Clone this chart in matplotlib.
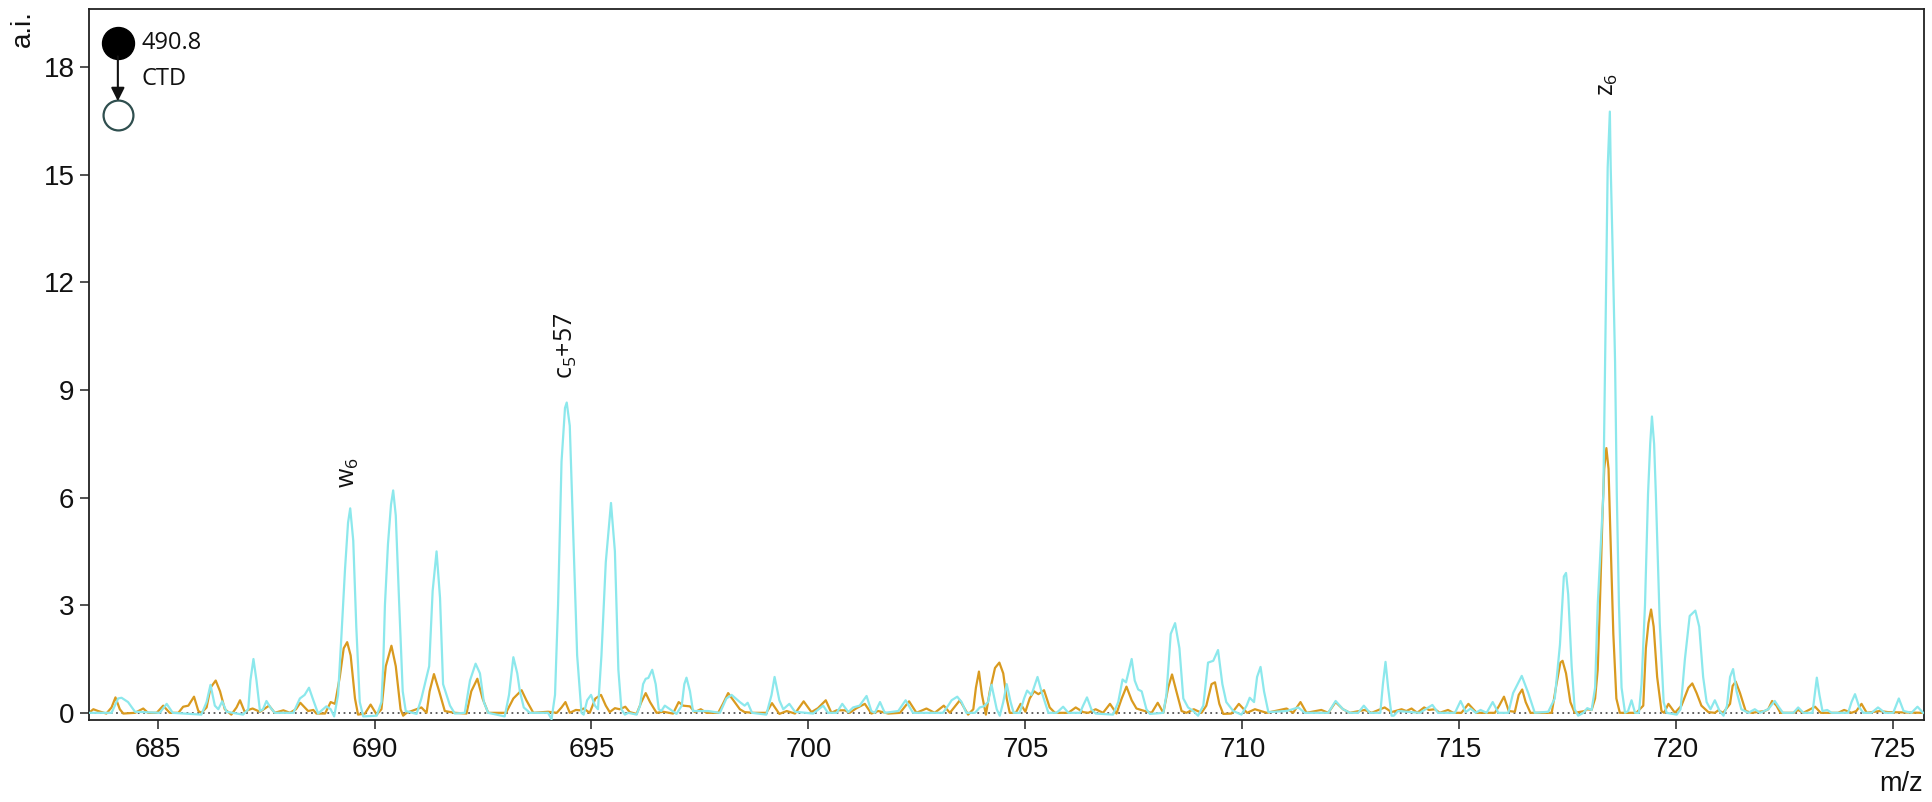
# -*- coding: utf-8 -*-
# CTD spectrum, m/z 683-726, two overlaid traces
import matplotlib
matplotlib.use("Agg")
import matplotlib.pyplot as plt

plt.rcParams["font.family"] = ["Liberation Sans", "DejaVu Sans"]
plt.rcParams["mathtext.default"] = "regular"

# traces
cyan_mz = [
    683.44, 683.94, 684.09, 684.17, 684.32, 684.48, 685.05, 685.21, 685.35, 686.01, 686.13, 686.22,
    686.32, 686.40, 686.49, 686.59, 686.97, 687.09, 687.14, 687.21, 687.28, 687.36, 687.43, 687.51,
    687.60, 687.70, 688.13, 688.28, 688.39, 688.49, 688.59, 688.70, 688.89, 688.99, 689.07, 689.16,
    689.24, 689.32, 689.39, 689.44, 689.51, 689.58, 689.66, 689.74, 690.05, 690.16, 690.20, 690.24, 690.31,
    690.38, 690.43, 690.49, 690.57, 690.65, 690.72, 690.97, 691.08, 691.20, 691.26, 691.34, 691.43,
    691.51, 691.58, 691.74, 691.85, 692.08, 692.20, 692.33, 692.43, 692.52, 692.62, 693.00, 693.10,
    693.20, 693.29, 693.35, 693.44, 693.58, 694.00, 694.08, 694.16, 694.23, 694.31, 694.39, 694.43,
    694.50, 694.58, 694.67, 694.77, 694.82, 694.90, 694.99, 695.08, 695.15, 695.23, 695.33, 695.45,
    695.54, 695.62, 695.69, 695.77, 695.85, 696.04, 696.12, 696.19, 696.25, 696.31, 696.40, 696.48,
    696.55, 696.61, 696.69, 696.81, 696.96, 697.08, 697.14, 697.19, 697.27, 697.34, 697.69, 697.96,
    698.11, 698.23, 698.42, 698.53, 698.60, 698.70, 699.03, 699.15, 699.22, 699.33, 699.42, 699.56,
    699.69, 700.11, 700.34, 700.45, 700.65, 700.78, 700.92, 701.03, 701.18, 701.34, 701.45, 701.53,
    701.65, 701.76, 702.07, 702.24, 702.41, 703.10, 703.22, 703.30, 703.43, 703.53, 703.64, 703.84,
    703.95, 704.04, 704.14, 704.22, 704.34, 704.41, 704.49, 704.57, 704.66, 704.73, 704.87, 704.97,
    705.04, 705.14, 705.28, 705.37, 705.53, 705.72, 705.87, 705.99, 706.26, 706.33, 706.42, 706.52,
    706.62, 707.02, 707.14, 707.24, 707.32, 707.45, 707.52, 707.60, 707.68, 707.79, 707.87, 708.18,
    708.25, 708.35, 708.45, 708.55, 708.64, 708.75, 708.87, 708.98, 709.10, 709.21, 709.33, 709.44,
    709.54, 709.63, 709.79, 709.98, 710.10, 710.17, 710.27, 710.34, 710.42, 710.50, 710.60, 711.02,
    711.29, 711.44, 711.98, 712.15, 712.32, 712.48, 712.67, 712.80, 712.94, 713.18, 713.24, 713.30,
    713.36, 713.44, 713.49, 713.59, 714.09, 714.38, 714.51, 714.90, 715.03, 715.15, 715.26, 715.38,
    715.49, 715.63, 715.77, 715.90, 716.13, 716.24, 716.44, 716.59, 716.74, 717.05, 717.20, 717.32,
    717.41, 717.46, 717.51, 717.59, 717.66, 717.74, 717.86, 717.95, 718.05, 718.13, 718.19, 718.32,
    718.36, 718.39, 718.42, 718.47, 718.49, 718.54, 718.59, 718.63, 718.68, 718.74, 718.82, 718.89,
    718.97, 719.05, 719.14, 719.20, 719.28, 719.35, 719.40, 719.44, 719.49, 719.53, 719.62, 719.71,
    719.78, 720.01, 720.10, 720.20, 720.31, 720.44, 720.53, 720.62, 720.70, 720.79, 720.89, 721.00,
    721.09, 721.17, 721.24, 721.31, 721.39, 721.50, 721.66, 721.81, 721.93, 722.12, 722.27, 722.37,
    722.46, 722.70, 722.81, 722.93, 723.14, 723.20, 723.24, 723.30, 723.37, 723.48, 723.58, 723.96,
    724.04, 724.12, 724.22, 724.31, 724.50, 724.65, 724.81, 725.00, 725.13, 725.24, 725.42, 725.56,
    725.69,
]
cyan_ai = [
    0.00, 0.00, 0.40, 0.42, 0.30, 0.03, 0.00, 0.25, 0.00, -0.05, 0.30, 0.78,
    0.20, 0.10, 0.32, 0.03, -0.05, 0.10, 0.90, 1.50, 0.90, 0.05, 0.10, 0.33,
    0.15, 0.00, 0.00, 0.40, 0.50, 0.70, 0.35, -0.02, 0.18, 0.10, -0.10, 0.50,
    2.20, 4.00, 5.30, 5.70, 4.80, 2.40, 0.30, -0.10, -0.08, 0.30, 1.30, 3.00, 4.70,
    5.80, 6.20, 5.50, 3.00, 0.60, 0.05, -0.03, 0.40, 1.00, 1.30, 3.40, 4.50,
    3.20, 0.80, 0.20, -0.02, 0.00, 0.90, 1.37, 1.10, 0.30, 0.00, -0.10, 0.50,
    1.55, 1.10, 0.60, 0.15, 0.00, 0.00, -0.18, 0.50, 3.00, 7.00, 8.50, 8.65,
    8.00, 5.00, 1.60, 0.00, -0.05, 0.35, 0.50, 0.20, 0.10, 1.60, 4.20, 5.85,
    4.50, 1.20, 0.10, -0.05, 0.00, -0.05, 0.20, 0.80, 0.95, 0.97, 1.20, 0.80,
    0.10, 0.05, 0.20, 0.10, -0.03, 0.20, 0.80, 0.98, 0.60, 0.05, 0.05, 0.00,
    0.40, 0.50, 0.30, 0.20, 0.28, 0.00, -0.05, 0.50, 1.00, 0.35, 0.10, 0.25,
    0.03, -0.02, 0.20, 0.00, 0.00, 0.25, 0.02, 0.15, 0.20, 0.47, 0.05, 0.00,
    0.30, 0.00, 0.05, 0.35, 0.00, 0.00, 0.20, 0.35, 0.45, 0.30, 0.00, 0.00,
    0.15, 0.18, 0.30, 0.78, 0.10, -0.08, 0.30, 0.80, 0.30, 0.00, 0.00, 0.40,
    0.62, 0.50, 1.00, 0.60, 0.00, 0.00, 0.17, 0.00, 0.00, 0.20, 0.43, 0.10,
    -0.02, -0.05, 0.30, 0.93, 0.85, 1.50, 0.90, 0.65, 0.60, 0.10, -0.03, 0.00,
    0.50, 2.20, 2.50, 1.80, 0.40, 0.15, 0.05, -0.08, 0.20, 1.40, 1.45, 1.75,
    0.80, 0.30, 0.05, -0.05, 0.20, 0.42, 0.30, 1.00, 1.28, 0.60, 0.02, 0.05,
    0.15, 0.00, 0.00, 0.33, 0.10, 0.00, 0.00, 0.20, 0.00, 0.00, 0.80, 1.42,
    0.70, -0.08, -0.08, 0.05, 0.00, 0.22, 0.00, 0.00, 0.33, 0.02, 0.12, 0.00,
    0.08, 0.00, 0.30, 0.00, 0.00, 0.55, 1.03, 0.55, 0.00, 0.03, 0.40, 1.90,
    3.80, 3.90, 3.30, 1.30, 0.10, -0.08, 0.00, 0.13, 0.08, 0.70, 3.00, 6.10,
    9.80, 12.60, 15.20, 16.76, 15.20, 12.60, 9.80, 6.10, 3.00, 0.70, 0.00, 0.05,
    0.35, 0.00, 0.00, 0.80, 3.00, 6.10, 7.50, 8.26, 7.50, 6.10, 2.50, 0.30,
    0.00, -0.05, 0.10, 1.50, 2.70, 2.85, 2.40, 1.00, 0.30, 0.10, 0.35, 0.05,
    -0.08, 0.20, 1.00, 1.22, 0.60, 0.10, 0.00, 0.10, 0.00, 0.10, 0.33, 0.15,
    0.00, 0.00, 0.15, 0.00, 0.00, 0.60, 0.98, 0.50, 0.05, 0.08, 0.00, 0.00,
    0.30, 0.52, 0.15, 0.00, 0.00, 0.15, 0.00, 0.00, 0.40, 0.05, 0.00, 0.17,
    0.00,
]

orange_mz = [
    683.44, 683.52, 683.63, 683.82, 683.94, 684.03, 684.13, 684.21, 684.48, 684.67, 684.78, 684.98,
    685.13, 685.28, 685.48, 685.59, 685.71, 685.84, 685.94, 686.01, 686.13, 686.22, 686.34, 686.44,
    686.55, 686.70, 686.82, 686.90, 687.01, 687.09, 687.19, 687.36, 687.57, 687.70, 687.90, 688.05,
    688.19, 688.29, 688.47, 688.59, 688.66, 688.86, 688.99, 689.09, 689.20, 689.29, 689.37, 689.45,
    689.55, 689.62, 689.78, 689.91, 690.05, 690.16, 690.26, 690.39, 690.49, 690.60, 690.66, 690.74,
    691.08, 691.20, 691.27, 691.37, 691.49, 691.62, 691.85, 692.12, 692.23, 692.37, 692.49, 692.62,
    693.03, 693.20, 693.39, 693.50, 693.66, 694.00, 694.20, 694.31, 694.40, 694.50, 694.64, 694.73,
    694.82, 694.96, 695.09, 695.22, 695.33, 695.42, 695.54, 695.65, 695.78, 695.88, 696.04, 696.15,
    696.25, 696.35, 696.50, 696.65, 696.88, 697.01, 697.11, 697.27, 697.38, 697.52, 697.65, 697.92,
    698.03, 698.15, 698.27, 698.42, 698.53, 698.73, 699.03, 699.16, 699.33, 699.50, 699.69, 699.89,
    700.07, 700.22, 700.40, 700.53, 700.65, 700.84, 700.95, 701.11, 701.30, 701.45, 701.61, 701.84,
    702.11, 702.32, 702.49, 702.72, 702.91, 703.12, 703.26, 703.49, 703.68, 703.80, 703.86, 703.93,
    704.00, 704.09, 704.18, 704.30, 704.40, 704.49, 704.57, 704.64, 704.78, 704.89, 705.00, 705.10,
    705.20, 705.30, 705.43, 705.56, 705.68, 705.99, 706.16, 706.33, 706.45, 706.62, 706.79, 706.95,
    707.10, 707.22, 707.33, 707.45, 707.56, 707.75, 707.91, 708.05, 708.18, 708.29, 708.38, 708.48,
    708.60, 708.71, 708.88, 709.06, 709.17, 709.29, 709.37, 709.47, 709.56, 709.75, 709.92, 710.11,
    710.29, 710.56, 711.02, 711.17, 711.34, 711.48, 711.82, 711.98, 712.15, 712.32, 712.48, 712.82,
    712.98, 713.28, 713.44, 713.67, 713.78, 713.90, 714.03, 714.19, 714.30, 714.44, 714.55, 714.74,
    714.86, 715.05, 715.21, 715.40, 715.82, 715.92, 716.03, 716.14, 716.28, 716.37, 716.45, 716.53,
    716.64, 717.13, 717.24, 717.33, 717.38, 717.46, 717.56, 717.66, 717.89, 717.95, 718.05, 718.13,
    718.19, 718.24, 718.30, 718.34, 718.39, 718.44, 718.47, 718.55, 718.62, 718.70, 719.08, 719.24,
    719.30, 719.36, 719.42, 719.48, 719.56, 719.66, 719.72, 719.82, 719.97, 720.12, 720.28, 720.37,
    720.47, 720.58, 720.74, 720.89, 720.97, 721.08, 721.24, 721.30, 721.37, 721.47, 721.60, 721.74,
    722.04, 722.12, 722.21, 722.31, 722.40, 722.70, 722.81, 722.93, 723.20, 723.33, 723.73, 723.87,
    724.04, 724.15, 724.27, 724.39, 724.69, 724.88, 725.69,
]
orange_ai = [
    0.02, 0.10, 0.05, -0.02, 0.15, 0.43, 0.10, -0.02, 0.00, 0.12, 0.00, 0.00,
    0.20, 0.00, 0.00, 0.17, 0.20, 0.45, 0.05, 0.00, 0.15, 0.70, 0.90, 0.60,
    0.10, -0.05, 0.15, 0.35, 0.02, 0.08, 0.12, 0.03, 0.20, 0.00, 0.07, 0.00,
    0.10, 0.28, 0.05, 0.08, -0.02, -0.02, 0.30, 0.25, 1.00, 1.80, 1.97, 1.60,
    0.40, -0.05, -0.02, 0.23, -0.05, 0.10, 1.30, 1.87, 1.30, 0.10, -0.08, 0.00,
    0.15, 0.00, 0.60, 1.08, 0.60, 0.05, 0.00, -0.02, 0.60, 0.95, 0.40, 0.00,
    0.00, 0.40, 0.63, 0.35, 0.00, 0.03, 0.00, 0.15, 0.30, 0.00, 0.08, 0.07,
    0.12, 0.00, 0.40, 0.50, 0.20, 0.02, 0.13, 0.10, 0.17, 0.02, -0.03, 0.30,
    0.55, 0.30, 0.00, 0.03, -0.02, 0.30, 0.20, 0.18, 0.02, 0.10, 0.00, 0.00,
    0.25, 0.55, 0.35, 0.10, 0.02, 0.00, 0.00, 0.27, -0.03, 0.05, -0.02, 0.32,
    0.02, 0.13, 0.35, 0.00, 0.07, 0.07, 0.00, 0.13, 0.25, -0.02, 0.05, -0.02,
    0.00, 0.32, 0.00, 0.12, 0.00, 0.20, 0.00, 0.35, -0.05, 0.10, 0.70, 1.15,
    0.50, -0.05, 0.60, 1.25, 1.40, 1.10, 0.40, 0.00, 0.00, 0.25, 0.03, 0.40,
    0.60, 0.52, 0.63, 0.15, 0.00, 0.00, 0.15, 0.02, 0.00, 0.10, 0.00, 0.25,
    -0.02, 0.40, 0.73, 0.35, 0.12, 0.05, 0.00, 0.28, 0.00, 0.70, 1.07, 0.60,
    0.05, 0.00, 0.10, 0.00, 0.20, 0.80, 0.85, 0.25, -0.03, -0.02, 0.25, 0.00,
    0.10, 0.00, 0.12, 0.00, 0.30, 0.00, 0.08, 0.00, 0.30, 0.10, 0.00, 0.08,
    0.00, 0.15, 0.02, 0.10, 0.05, 0.12, 0.00, 0.15, 0.08, 0.10, 0.00, 0.08,
    0.00, 0.00, 0.25, 0.00, 0.00, 0.20, 0.45, 0.05, 0.03, 0.50, 0.65, 0.30,
    0.00, 0.00, 0.80, 1.40, 1.45, 1.10, 0.30, 0.00, 0.05, 0.10, 0.08, 0.40,
    1.20, 3.00, 5.50, 6.80, 7.38, 6.80, 5.50, 2.20, 0.40, 0.00, 0.00, 0.20,
    1.80, 2.50, 2.88, 2.40, 1.00, 0.05, 0.00, 0.25, 0.00, 0.20, 0.70, 0.82,
    0.55, 0.20, 0.02, 0.00, 0.07, 0.00, 0.25, 0.75, 0.87, 0.55, 0.05, 0.00,
    0.05, 0.10, 0.33, 0.20, 0.00, 0.00, 0.08, 0.00, 0.17, 0.00, 0.00, 0.08,
    0.00, 0.05, 0.25, 0.00, 0.05, 0.02, 0.00,
]

x_ticks = [685, 690, 695, 700, 705, 710, 715, 720, 725]
y_ticks = [0, 3, 6, 9, 12, 15, 18]

C_CYAN = "#8ce8ec"
C_ORANGE = "#d99a1f"
C_AXIS = "#222222"

fig = plt.figure(figsize=(19.32, 8.02), dpi=100)
ax = fig.add_axes([89 / 1932, 1 - 720 / 802, (1924 - 89) / 1932, (720 - 9) / 802])

ax.axhline(0, color="#555555", lw=1.3, ls=(0, (1, 2)), zorder=1)
ax.plot(orange_mz, orange_ai, color=C_ORANGE, lw=1.6, zorder=2, solid_joinstyle="round")
ax.plot(cyan_mz, cyan_ai, color=C_CYAN, lw=1.6, zorder=3, solid_joinstyle="round")

ax.set_xlim(683.42, 725.71)
ax.set_ylim(-0.2, 19.62)
ax.set_xticks(x_ticks)
ax.set_yticks(y_ticks)
ax.tick_params(axis="both", length=6.5, width=1.1, color=C_AXIS, labelsize=20, labelcolor="#111111")
ax.tick_params(axis="x", pad=6)
ax.tick_params(axis="y", pad=4)
for s in ax.spines.values():
    s.set_linewidth(1.3)
    s.set_color(C_AXIS)

fig.text(23 / 1932, 1 - 29 / 802, "a.i.", rotation=90, ha="center", va="center", fontsize=20, color="#111111")
fig.text(1923 / 1932, 1 - 784 / 802, "m/z", ha="right", va="center", fontsize=19.5, color="#111111")

# fragment labels
lab = dict(rotation=90, ha="center", va="bottom", fontsize=18, family="Open Sans", color="#111111")
ax.text(689.4, 6.27, "w$_6$", **lab)
ax.text(694.42, 9.3, "c$_5$+57", **lab)
ax.text(718.42, 17.2, "z$_6$", **lab)

# precursor icon
ax.plot([684.085], [18.68], marker="o", ms=23, mfc="black", mec="black", zorder=5)
ax.plot([684.085], [16.67], marker="o", ms=21.5, mfc="white", mec="#2f4f4f", mew=1.6, zorder=5)
ax.annotate("", xy=(684.085, 17.05), xytext=(684.085, 18.3),
            arrowprops=dict(arrowstyle="-|>", color="#111111", lw=1.5, mutation_scale=20, shrinkA=0, shrinkB=0),
            zorder=6)
ax.text(684.64, 18.68, "490.8", ha="left", va="center", fontsize=17, family="Open Sans", color="#111111")
ax.text(684.64, 17.68, "CTD", ha="left", va="center", fontsize=17, family="Open Sans", color="#111111")

fig.savefig("out.png", dpi=100, facecolor="white")
